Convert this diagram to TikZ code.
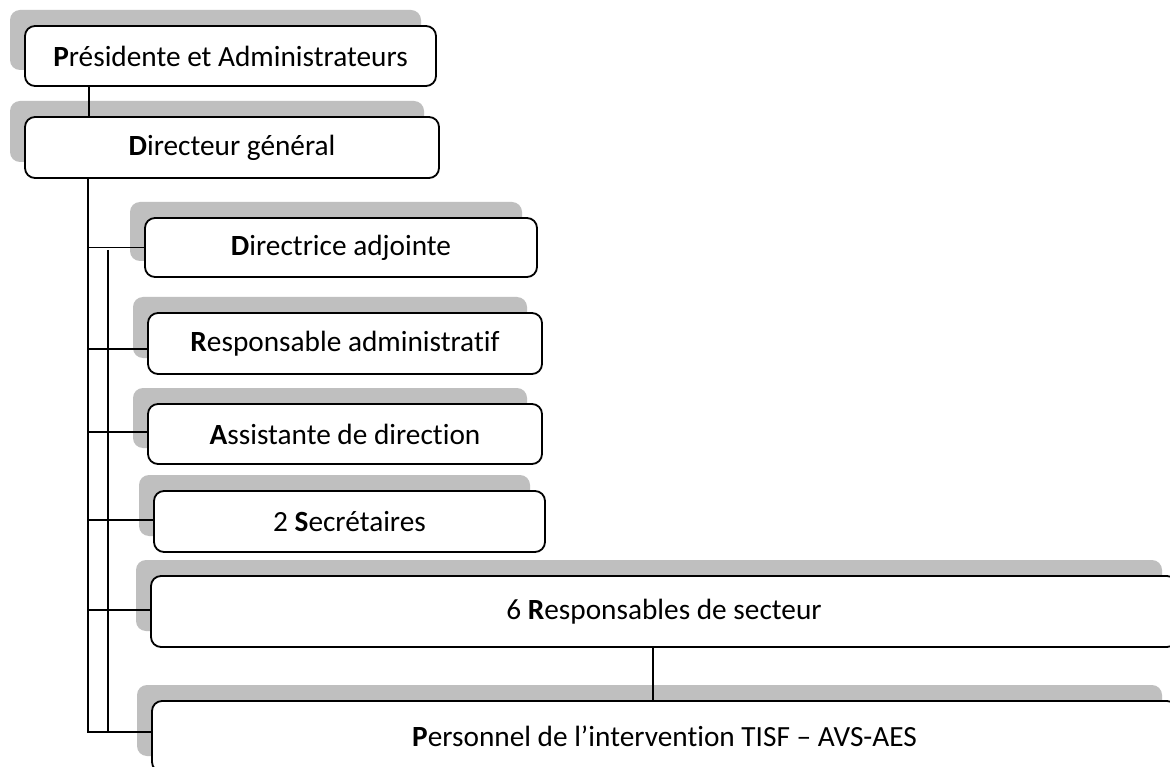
\documentclass[tikz,border=0pt]{standalone}
\usepackage{fontspec}
\setmainfont{Carlito}[Ligatures=NoCommon]
\usetikzlibrary{shadows}
\definecolor{shadowgray}{HTML}{BFBFBF}
\begin{document}
\begin{tikzpicture}[x=1pt,y=-1pt,
  orgbox/.style={draw=black, line width=1.8pt, fill=white, rounded corners=10pt, inner sep=0pt,
    font=\fontsize{29.3}{35}\selectfont,
    general shadow={fill=shadowgray, shadow xshift=-15pt, shadow yshift=16pt}},
  link/.style={line width=1.8pt, draw=black}]
\useasboundingbox (0,0) rectangle (1170,767);
\fill[white] (0,0) rectangle (1170,767);
\clip (0,0) rectangle (1170,767);
\node[orgbox, minimum width=411pt, minimum height=60pt] (pres) at (230.5,56) {\textbf{P}résidente et Administrateurs};
\node[orgbox, minimum width=414pt, minimum height=61pt] (dir) at (232,147.5) {\textbf{D}irecteur général};
\node[orgbox, minimum width=392pt, minimum height=59pt] (adj) at (341,247.5) {\textbf{D}irectrice adjointe};
\node[orgbox, minimum width=394pt, minimum height=61pt] (resp) at (345,343.5) {\textbf{R}esponsable administratif};
\node[orgbox, minimum width=394pt, minimum height=60pt] (asst) at (345,434) {\textbf{A}ssistante de direction};
\node[orgbox, minimum width=391pt, minimum height=61pt] (secr) at (349.5,521.5) {2 \textbf{S}ecrétaires};
\node[orgbox, minimum width=1026pt, minimum height=71pt] (sect) at (664,611.5) {6 \textbf{R}esponsables de secteur};
\node[orgbox, minimum width=1025pt, minimum height=71pt] (pers) at (664.5,736.5) {\textbf{P}ersonnel de l’intervention TISF – AVS-AES};
\coordinate (ta) at (88,732);
\coordinate (tb) at (108,250);
\coordinate (tp) at (89,0);
\coordinate (sp) at (653,0);
\draw[link] (pres.south -| tp) -- (dir.north -| tp);
\draw[link] (dir.south -| ta) -- (ta) -- (pers.west |- ta);
\draw[link] (tb) -- (tb |- ta);
\draw[link] (ta |- adj.west) -- (adj.west);
\draw[link] ([yshift=-5.5pt]resp.west -| ta) -- ([yshift=-5.5pt]resp.west);
\draw[link] ([yshift=2pt]asst.west -| ta) -- ([yshift=2pt]asst.west);
\draw[link] ([yshift=1.5pt]secr.west -| ta) -- ([yshift=1.5pt]secr.west);
\draw[link] ([yshift=1.5pt]sect.west -| ta) -- ([yshift=1.5pt]sect.west);
\draw[link] (sect.south -| sp) -- (pers.north -| sp);
\end{tikzpicture}
\end{document}
